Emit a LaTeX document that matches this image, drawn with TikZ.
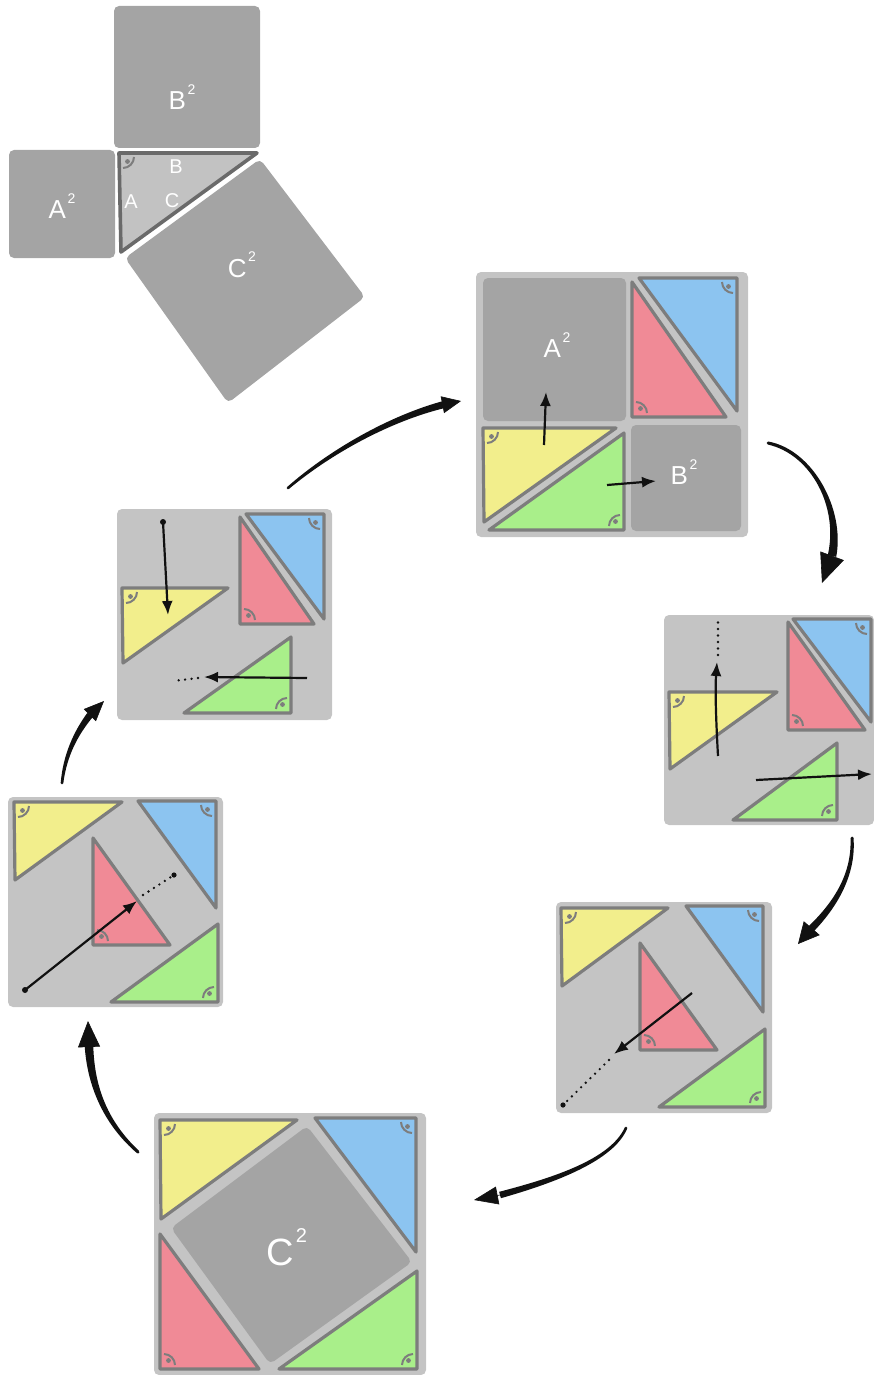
\documentclass[tikz,border=0pt]{standalone}
\usepackage{fontspec}
\setmainfont{Liberation Sans}
\usetikzlibrary{arrows.meta,calc}
\definecolor{bgc}{HTML}{C4C4C4}
\definecolor{sqc}{HTML}{A4A4A4}
\definecolor{olc}{HTML}{7D7D7D}
\definecolor{tlc}{HTML}{C2C2C2}
\definecolor{yelc}{HTML}{F2EE8C}
\definecolor{bluc}{HTML}{8CC4F0}
\definecolor{pinc}{HTML}{F08A96}
\definecolor{grnc}{HTML}{A9EF8A}
\definecolor{arc}{HTML}{111111}
\newcommand\sqtwo[1]{\kern1.5pt\raisebox{0.6em}{\fontsize{#1}{#1}\selectfont 2}}
% right-angle mark: corner x, y, inward x sign, inward y sign
\newcommand\rmk[4]{\begin{scope}[shift={(#1,#2)},xscale=#3,yscale=#4]
  \draw[olc,line width=2pt] (15,4) .. controls (15,10) and (10,15) .. (4,15);
  \fill[olc] (8.5,8.5) circle (2.4pt);
\end{scope}}
% tapered shaft: P0 P1 P2 P3, half width at start, half width at end
\newcommand\taper[6]{%
  \fill[arc] ($(#1)!#5!90:(#2)$) .. controls ($(#2)!{0.67*#5+0.33*#6}!-90:(#1)$) and ($(#3)!{0.33*#5+0.67*#6}!90:(#4)$) .. ($(#4)!#6!-90:(#3)$)
    -- ($(#4)!#6!90:(#3)$) .. controls ($(#3)!{0.33*#5+0.67*#6}!-90:(#4)$) and ($(#2)!{0.67*#5+0.33*#6}!90:(#1)$) .. ($(#1)!#5!-90:(#2)$) -- cycle;
  \fill[arc] (#1) circle (#5);}
\begin{document}
\begin{tikzpicture}[x=1pt,y=-1pt,
  panel/.style={fill=bgc,rounded corners=5pt},
  sq/.style={fill=sqc,rounded corners=5pt},
  tri/.style={draw=olc,line width=3.2pt,line join=round},
  yel/.style={tri,fill=yelc},
  blu/.style={tri,fill=bluc},
  pin/.style={tri,fill=pinc},
  grn/.style={tri,fill=grnc},
  lbl/.style={text=white,inner sep=0pt,font=\fontsize{26}{28}\selectfont},
  sml/.style={text=white,inner sep=0pt,font=\fontsize{20}{22}\selectfont},
  huge/.style={text=white,inner sep=0pt,font=\fontsize{38}{40}\selectfont},
  mv/.style={arc,line width=2.2pt,-{Latex[length=14pt,width=11pt]}},
  dotl/.style={arc,line width=2.6pt,line cap=round,dash pattern=on 0pt off 6.5pt},
  head/.style={arc,line width=0.6pt,line join=round}
]
\useasboundingbox (0,0) rectangle (874,1375);

% ---------- top-left figure ----------
\fill[sq] (114,6) rectangle (260,148);
\fill[sq] (9,150) rectangle (115,258);
\fill[sq] (125,258) -- (260,159) -- (365,297) -- (228,403) -- cycle;
\draw[draw=olc!85!black,line width=3.6pt,line join=round,fill=tlc] (119,153) -- (257,153) -- (121,252) -- cycle;
\rmk{119}{153}{1}{1}
\node[lbl] (tB2) at (182,97) {B\sqtwo{14}};
\node[lbl] (tA2) at (62,206) {A\sqtwo{14}};
\node[lbl] (tC2) at (242,265) {C\sqtwo{14}};
\node[sml] (tB) at (176,167) {B};
\node[sml] (tA) at (131,202) {A};
\node[sml] (tC) at (172,201) {C};

% ---------- panel 1 (top right) ----------
\fill[panel] (476,272) rectangle (748,537);
\fill[sq] (483,278) rectangle (626,421);
\fill[sq] (631,425) rectangle (741,531);
\draw[yel] (483,428) -- (616,428) -- (484,522) -- cycle;
\draw[grn] (624,530) -- (624,433) -- (489,530) -- cycle;
\draw[pin] (632,417) -- (632,282) -- (726,417) -- cycle;
\draw[blu] (737,278) -- (639,278) -- (737,411) -- cycle;
\rmk{483}{428}{1}{1}
\rmk{624}{530}{-1}{-1}
\rmk{632}{417}{1}{-1}
\rmk{737}{278}{-1}{1}
\node[lbl] (p1A2) at (557,345) {A\sqtwo{14}};
\node[lbl] (p1B2) at (684,472) {B\sqtwo{14}};
\coordinate (p1a) at (544,445); \coordinate (p1b) at (546,392);
\coordinate (p1c) at (607,485); \coordinate (p1d) at (656,481);
\draw[mv] (p1a) -- (p1b);
\draw[mv] (p1c) -- (p1d);

% ---------- panel 2 (left upper) ----------
\fill[panel] (117,509) rectangle (332,720);
\draw[yel] (122,588) -- (228,588) -- (123,663) -- cycle;
\draw[pin] (240,624) -- (240,517) -- (314,624) -- cycle;
\draw[blu] (324,514) -- (246,514) -- (324,619) -- cycle;
\draw[grn] (291,713) -- (291,637) -- (184,713) -- cycle;
\rmk{122}{588}{1}{1}
\rmk{240}{624}{1}{-1}
\rmk{324}{514}{-1}{1}
\rmk{291}{713}{-1}{-1}
\coordinate (p2a) at (163,522); \coordinate (p2b) at (168,615);
\coordinate (p2c) at (307,678); \coordinate (p2d) at (204,677);
\coordinate (p2e) at (198,678); \coordinate (p2f) at (173,681);
\fill[arc] (p2a) circle (3pt);
\draw[mv] (p2a) -- (p2b);
\draw[mv] (p2c) -- (p2d);
\draw[dotl] (p2e) -- (p2f);

% ---------- panel 3 (right middle) ----------
\fill[panel] (664,615) rectangle (874,825);
\draw[yel] (669,692) -- (777,692) -- (670,769) -- cycle;
\draw[pin] (788,730) -- (788,622) -- (865,730) -- cycle;
\draw[blu] (871,619) -- (793,619) -- (871,722) -- cycle;
\draw[grn] (837,820) -- (837,743) -- (733,820) -- cycle;
\rmk{669}{692}{1}{1}
\rmk{788}{730}{1}{-1}
\rmk{871}{619}{-1}{1}
\rmk{837}{820}{-1}{-1}
\coordinate (p3a) at (718,756); \coordinate (p3b) at (717,662);
\coordinate (p3c) at (718,655); \coordinate (p3d) at (718,619);
\coordinate (p3e) at (756,780); \coordinate (p3f) at (872,774);
\draw[mv] (p3a) .. controls (716,720) and (715,690) .. (p3b);
\draw[dotl] (p3c) -- (p3d);
\draw[mv] (p3e) -- (p3f);

% ---------- panel 4 (left lower) ----------
\fill[panel] (8,797) rectangle (223,1007);
\draw[yel] (14,802) -- (122,802) -- (15,880) -- cycle;
\draw[blu] (216,801) -- (138,801) -- (216,908) -- cycle;
\draw[pin] (93,945) -- (93,838) -- (170,945) -- cycle;
\draw[grn] (218,1002) -- (218,924) -- (111,1002) -- cycle;
\rmk{14}{802}{1}{1}
\rmk{216}{801}{-1}{1}
\rmk{93}{945}{1}{-1}
\rmk{218}{1002}{-1}{-1}
\coordinate (p4a) at (25,990); \coordinate (p4b) at (137,901);
\coordinate (p4c) at (143,895); \coordinate (p4d) at (174,875);
\fill[arc] (p4a) circle (3pt);
\draw[mv] (p4a) -- (p4b);
\draw[dotl] (p4c) -- (p4d);
\fill[arc] (p4d) circle (2.6pt);

% ---------- panel 5 (right lower) ----------
\fill[panel] (556,902) rectangle (772,1113);
\draw[yel] (561,908) -- (668,908) -- (562,986) -- cycle;
\draw[blu] (763,906) -- (686,906) -- (763,1012) -- cycle;
\draw[pin] (640,1050) -- (640,943) -- (717,1050) -- cycle;
\draw[grn] (765,1107) -- (765,1029) -- (659,1107) -- cycle;
\rmk{561}{908}{1}{1}
\rmk{763}{906}{-1}{1}
\rmk{640}{1050}{1}{-1}
\rmk{765}{1107}{-1}{-1}
\coordinate (p5a) at (692,993); \coordinate (p5b) at (614,1054);
\coordinate (p5c) at (609,1060); \coordinate (p5d) at (563,1105);
\draw[mv] (p5a) -- (p5b);
\draw[dotl] (p5c) -- (p5d);
\fill[arc] (p5d) circle (2.6pt);

% ---------- panel 6 (bottom) ----------
\fill[panel] (154,1113) rectangle (426,1375);
\fill[sq] (171,1228) -- (307,1126) -- (412,1262) -- (270,1364) -- cycle;
\draw[yel] (160,1120) -- (297,1120) -- (161,1219) -- cycle;
\draw[blu] (416,1118) -- (315,1118) -- (416,1252) -- cycle;
\draw[pin] (160,1369) -- (160,1234) -- (259,1369) -- cycle;
\draw[grn] (417,1369) -- (417,1271) -- (279,1369) -- cycle;
\rmk{160}{1120}{1}{1}
\rmk{416}{1118}{-1}{1}
\rmk{160}{1369}{1}{-1}
\rmk{417}{1369}{-1}{-1}
\node[huge] (p6C2) at (287,1247) {C\sqtwo{20}};

% ---------- big arrows (tapered shaft + head) ----------
% arrow 1
\coordinate (a1s) at (288,488); \coordinate (a1c) at (330,452); \coordinate (a1d) at (390,418);
\coordinate (a1b) at (446,404); \coordinate (a1e) at (461,401);
\taper{a1s}{a1c}{a1d}{a1b}{1.3pt}{3.6pt}
\draw[head,-{Triangle[length=19pt,width=17pt]}] (a1b) -- (a1e);
% arrow 2
\coordinate (a2s) at (768,443); \coordinate (a2c) at (812,452); \coordinate (a2d) at (842,508);
\coordinate (a2b) at (832,556); \coordinate (a2e) at (822,583);
\taper{a2s}{a2c}{a2d}{a2b}{1.5pt}{4.3pt}
\draw[head,-{Triangle[length=29pt,width=25pt]}] (a2b) -- (a2e);
% arrow 3
\coordinate (a3s) at (852,838); \coordinate (a3c) at (854,872); \coordinate (a3d) at (838,902);
\coordinate (a3b) at (811,929); \coordinate (a3e) at (798,944);
\taper{a3s}{a3c}{a3d}{a3b}{1.5pt}{3.6pt}
\draw[head,-{Triangle[length=21pt,width=21pt]}] (a3b) -- (a3e);
% arrow 4
\coordinate (a4s) at (626,1128); \coordinate (a4c) at (612,1160); \coordinate (a4d) at (555,1180);
\coordinate (a4b) at (500,1195); \coordinate (a4e) at (474,1200);
\taper{a4s}{a4c}{a4d}{a4b}{1.3pt}{3.3pt}
\draw[head,-{Triangle[length=24pt,width=18pt]}] (a4b) -- (a4e);
% arrow 5
\coordinate (a5s) at (138,1152); \coordinate (a5c) at (108,1125); \coordinate (a5d) at (91,1090);
\coordinate (a5b) at (89,1046); \coordinate (a5e) at (88,1021);
\taper{a5s}{a5c}{a5d}{a5b}{1.5pt}{4.3pt}
\draw[head,-{Triangle[length=26pt,width=22pt]}] (a5b) -- (a5e);
% arrow 6
\coordinate (a6s) at (62,783); \coordinate (a6c) at (65,755); \coordinate (a6d) at (76,733);
\coordinate (a6b) at (90,715); \coordinate (a6e) at (104,701);
\taper{a6s}{a6c}{a6d}{a6b}{1.3pt}{3.4pt}
\draw[head,-{Triangle[length=20pt,width=17pt]}] (a6b) -- (a6e);
\end{tikzpicture}
\end{document}
